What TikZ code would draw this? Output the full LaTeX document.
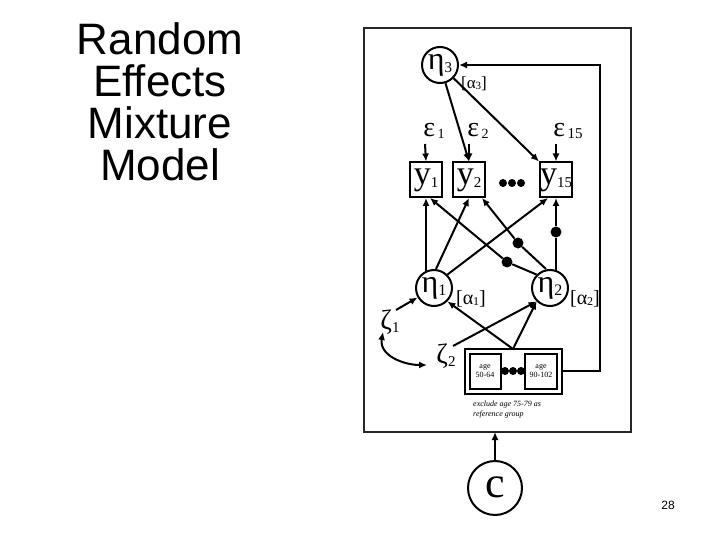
\documentclass[tikz,border=0pt]{standalone}
\usepackage{fontspec}
\setmainfont{Liberation Sans}
\newfontfamily\serif{Liberation Serif}
\usetikzlibrary{arrows.meta}
\begin{document}
\begin{tikzpicture}[x=1pt,y=-1pt,
  ar/.style={-{Latex[length=8pt,width=7pt]},line width=2pt},
  lat/.style={circle,draw,line width=2pt,minimum size=36pt,inner sep=0pt,font=\serif\fontsize{32}{32}\selectfont},
  obs/.style={rectangle,draw,line width=2pt,minimum width=32pt,minimum height=35pt,inner sep=0pt,font=\serif\fontsize{34}{34}\selectfont},
  sm/.style={font=\serif\fontsize{15}{15}\selectfont,inner sep=0pt},
  dot/.style={circle,fill,inner sep=0pt,minimum size=11pt}]
\useasboundingbox (0,0) rectangle (720,540);
\fill[white] (0,0) rectangle (720,540);
\node[align=center,font=\fontsize{44}{42}\selectfont] (title) at (160,102) {Random\\Effects\\Mixture\\Model};
\node[font=\fontsize{12}{12}\selectfont] (pg) at (668,505) {28};
\draw[line width=2.5pt,black!85] (364,28) rectangle (631,432);
\node[lat] (e3) at (440,65) {\raisebox{2pt}{η}\raisebox{-1pt}{\fontsize{15}{15}\selectfont 3}};
\node[sm,font=\serif\fontsize{17}{17}\selectfont] (a3) at (474,84) {[α\raisebox{-1pt}{\fontsize{11}{11}\selectfont 3}]};
\node[obs] (y1) at (426,180) {\raisebox{-3pt}{y}\raisebox{-6pt}{\fontsize{15}{15}\selectfont 1}};
\node[obs] (y2) at (469,180) {\raisebox{-3pt}{y}\raisebox{-6pt}{\fontsize{15}{15}\selectfont 2}};
\node[obs] (y15) at (556,180) {\raisebox{-3pt}{y}\raisebox{-6pt}{\fontsize{15}{15}\selectfont 15}};
\node[sm,font=\serif\fontsize{28}{28}\selectfont] (ep1) at (434,131) {ε\raisebox{-2pt}{\fontsize{14}{14}\selectfont\,1}};
\node[sm,font=\serif\fontsize{28}{28}\selectfont] (ep2) at (478,131) {ε\raisebox{-2pt}{\fontsize{14}{14}\selectfont\,2}};
\node[sm,font=\serif\fontsize{28}{28}\selectfont] (ep15) at (568,131) {ε\raisebox{-2pt}{\fontsize{15}{15}\selectfont\,15}};
\node[dot,minimum size=8pt] (d1) at (503,183) {};
\node[dot,minimum size=8pt] (d2) at (512,183) {};
\node[dot,minimum size=8pt] (d3) at (521,183) {};
\draw[ar] (425,144) -- (y1.north);
\draw[ar] (469,144) -- (y2.north);
\draw[ar] (556,144) -- (y15.north);
\draw[ar] (e3) -- (y2.north);
\draw[ar] (e3) -- (y15.north west);
\node[lat] (e1) at (434,288) {\raisebox{2pt}{η}\raisebox{-1pt}{\fontsize{16}{16}\selectfont 1}};
\node[lat] (e2) at (550,288) {\raisebox{2pt}{η}\raisebox{-1pt}{\fontsize{16}{16}\selectfont 2}};
\node[sm,font=\serif\fontsize{20}{20}\selectfont] (a1) at (471,299) {[α\raisebox{-1pt}{\fontsize{12}{12}\selectfont 1}]};
\node[sm,font=\serif\fontsize{20}{20}\selectfont] (a2) at (585,299) {[α\raisebox{-1pt}{\fontsize{12}{12}\selectfont 2}]};
% loadings
\draw[ar] (426,273) -- (426,198);
\draw[ar] (e1.north) ++(2,0) -- (469,198);
\draw[ar] (e1.north east) -- (548,198);
\node[dot] (b1) at (507,262) {};
\node[dot] (b2) at (518,243) {};
\node[dot] (b3) at (556,232) {};
\draw[ar] (e2.north west) -- (b1) -- (430,198);
\draw[ar] (e2.north) ++(-4,0) -- (b2) -- (482,198);
\draw[ar] (556,272) -- (b3) -- (556,198);
% zetas
\node[sm,font=\serif\fontsize{28}{28}\selectfont] (z1) at (390,322) {ζ\raisebox{-3pt}{\fontsize{15}{15}\selectfont 1}};
\node[sm,font=\serif\fontsize{28}{28}\selectfont] (z2) at (446,356) {ζ\raisebox{-3pt}{\fontsize{15}{15}\selectfont 2}};
\draw[ar] (396,310) -- (e1);
\draw[ar] (453,346) -- (e2.south west);
\draw[{Latex[length=8pt,width=7pt]}-{Latex[length=8pt,width=7pt]},line width=2pt] (383,332) to[out=260,in=180,looseness=1.1] (427,365);
% covariate box
\draw[line width=2pt] (465,349) rectangle (562,394);
\draw[line width=1.2pt] (470,354) rectangle (501,389);
\draw[line width=1.2pt] (525,354) rectangle (557,389);
\node[sm,align=center,font=\serif\fontsize{8}{9}\selectfont] (c1) at (485,371) {age\\50-64};
\node[sm,align=center,font=\serif\fontsize{8}{9}\selectfont] (c2) at (541,371) {age\\90-102};
\node[dot,minimum size=8pt] (f1) at (505,371) {};
\node[dot,minimum size=8pt] (f2) at (513,371) {};
\node[dot,minimum size=8pt] (f3) at (521,371) {};
\coordinate (ct) at (513,349);
\draw[ar] (ct) -- (e1.south east);
\draw[ar] (ct) -- (e2.south west);
\draw[ar] (562,371) -- (600,371) -- (600,65) -- (e3);
\node[sm,align=left,font=\serif\itshape\fontsize{8}{10}\selectfont,anchor=west] (ex) at (473,410) {exclude age 75-79 as\\reference group};
% c
\node[circle,draw,line width=2pt,minimum size=54pt,inner sep=0pt,font=\serif\fontsize{44}{44}\selectfont] (c) at (495,488) {\raisebox{2pt}{c}};
\draw[ar] (c) -- (495,432);
\end{tikzpicture}
\end{document}
